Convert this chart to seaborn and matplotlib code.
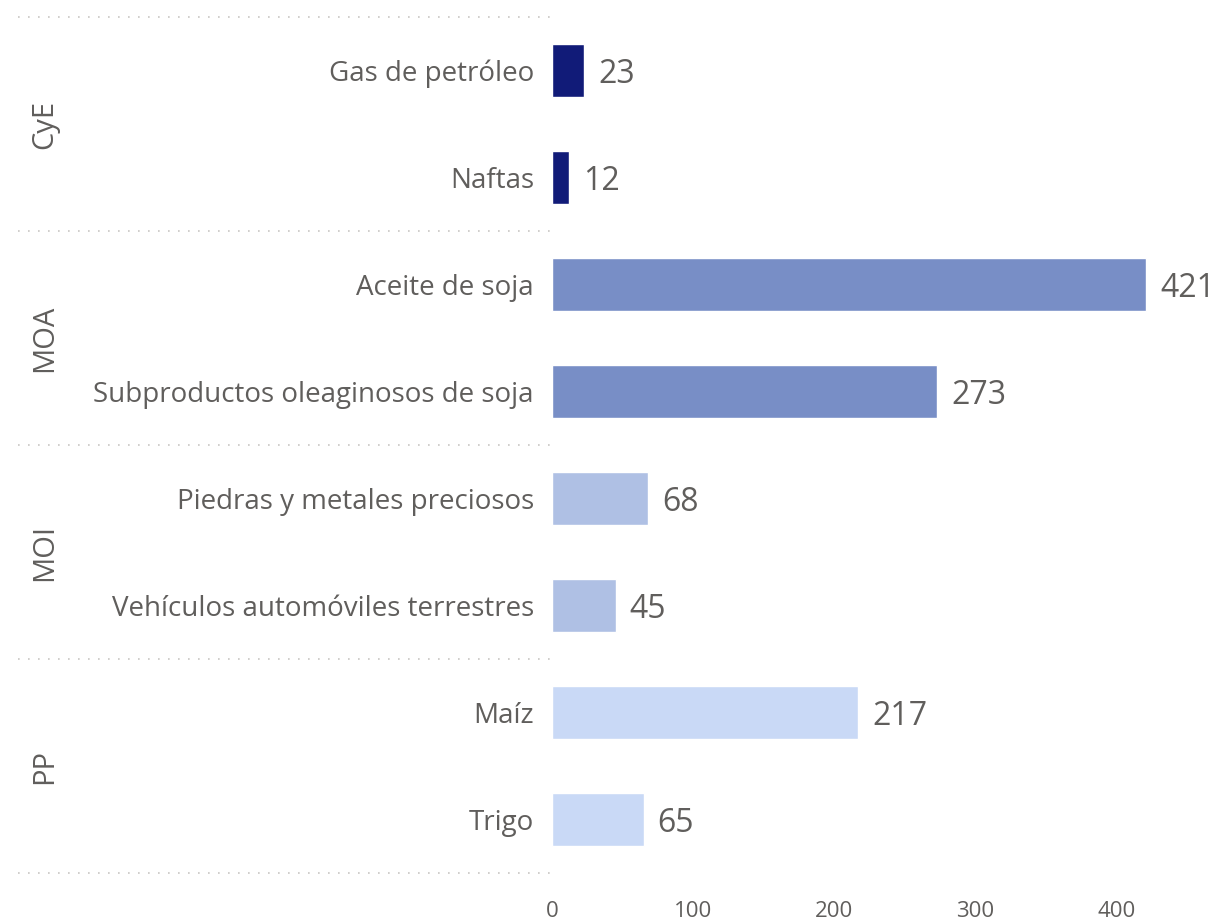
import seaborn as sns
import matplotlib.pyplot as plt
import matplotlib.transforms as mtransforms
import pandas as pd

# Data
groups = ["CyE", "CyE", "MOA", "MOA", "MOI", "MOI", "PP", "PP"]
products = [
    "Gas de petróleo",
    "Naftas",
    "Aceite de soja",
    "Subproductos oleaginosos de soja",
    "Piedras y metales preciosos",
    "Vehículos automóviles terrestres",
    "Maíz",
    "Trigo",
]
values = [23, 12, 421, 273, 68, 45, 217, 65]
group_names = ["CyE", "MOA", "MOI", "PP"]
group_colors = {"CyE": "#111B78", "MOA": "#788EC6", "MOI": "#AFC0E4", "PP": "#C9D9F6"}
x_ticks = [0, 100, 200, 300, 400]

df = pd.DataFrame({"group": groups, "product": products, "value": values})

sns.set_style("white")
plt.rcParams["font.family"] = ["Open Sans", "DejaVu Sans"]
text_color = "#605E5C"

fig = plt.figure(figsize=(12.17, 9.22), dpi=100)
ax = fig.add_axes([552 / 1217, 49 / 922, 665 / 1217, 856 / 922])

sns.barplot(
    data=df,
    y="product",
    x="value",
    hue="group",
    palette=group_colors,
    saturation=1,
    dodge=False,
    width=0.5,
    legend=False,
    ax=ax,
)

ax.set_xlim(0, 471)
ax.set_ylim(7.5, -0.5)
ax.set_xticks(x_ticks)
ax.set_xlabel("")
ax.set_ylabel("")
ax.tick_params(axis="y", length=0, pad=13, labelsize=20, labelcolor=text_color)
ax.tick_params(axis="x", length=0, pad=20, labelsize=16, labelcolor=text_color)
for s in ax.spines.values():
    s.set_visible(False)

# value labels
for cont in ax.containers:
    labels = ax.bar_label(cont, padding=10, fontsize=23, color=text_color)
    for t in labels:
        t.set_va("center_baseline")

# group separators and labels
trans = mtransforms.blended_transform_factory(ax.transAxes, ax.transData)
x_left = (18 - 552) / 665
for i in range(len(group_names) + 1):
    y = -0.5 + 2 * i
    ax.plot([x_left, 0], [y, y], transform=trans, clip_on=False,
            color="#C8C6C4", linestyle=(0, (1, 5)), linewidth=1.2)
for i, g in enumerate(group_names):
    ax.text((45 - 552) / 665, 0.5 + 2 * i, g, transform=trans, rotation=90,
            ha="center", va="center", fontsize=21, color=text_color)

fig.savefig("out.png", dpi=100)
